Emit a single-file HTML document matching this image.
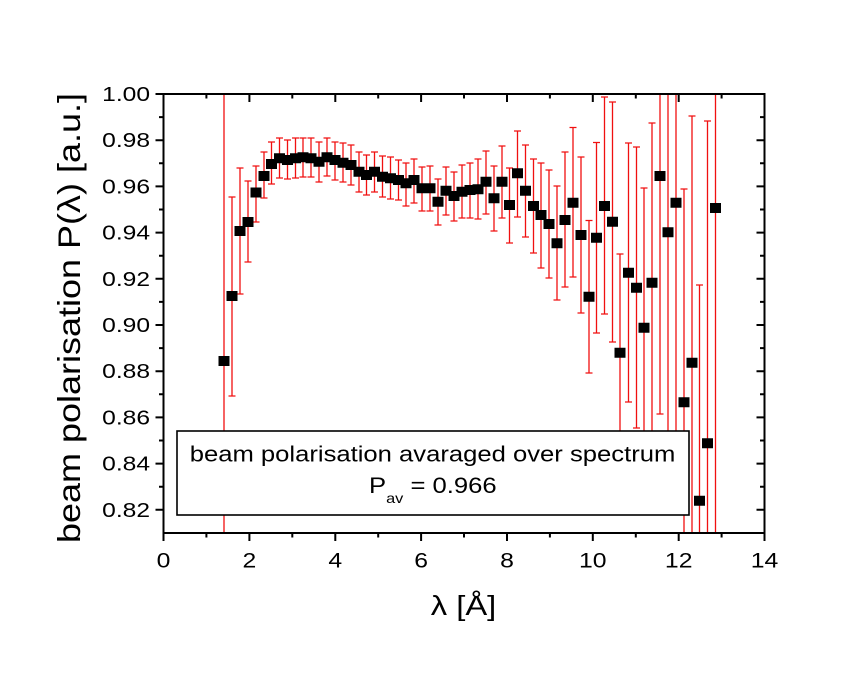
<!DOCTYPE html>
<html><head><meta charset="utf-8"><style>
html,body{margin:0;padding:0;background:#fff;}
svg{display:block;}
text{font-family:"Liberation Sans",Arial,sans-serif;fill:#000;}
</style></head><body>
<svg width="854" height="675" viewBox="0 0 854 675" xmlns="http://www.w3.org/2000/svg">
<rect x="0" y="0" width="854" height="675" fill="#fff"/>
<path fill="none" stroke="#f01010" stroke-width="1.3" d="M224 94V533 M232 197V396M228.5 197h7M228.5 396h7 M240 168V294M236.5 168h7M236.5 294h7 M248 181V262M244.5 181h7M244.5 262h7 M256 166V222M252.5 166h7M252.5 222h7 M264 152V198M260.5 152h7M260.5 198h7 M271.5 142V184M268 142h7M268 184h7 M279.5 138V178M276 138h7M276 178h7 M287.5 140V179M284 140h7M284 179h7 M295.5 138V178M292 138h7M292 178h7 M303 138V177M299.5 138h7M299.5 177h7 M311 138V177M307.5 138h7M307.5 177h7 M319 142V182M315.5 142h7M315.5 182h7 M327 138V176M323.5 138h7M323.5 176h7 M335 142V180M331.5 142h7M331.5 180h7 M343 143V182M339.5 143h7M339.5 182h7 M351 145V185M347.5 145h7M347.5 185h7 M359 152V192M355.5 152h7M355.5 192h7 M366.5 155V195M363 155h7M363 195h7 M374.5 152V192M371 152h7M371 192h7 M382.5 156V197M379 156h7M379 197h7 M390.5 157V199M387 157h7M387 199h7 M398.5 160V200M395 160h7M395 200h7 M406 163V206M402.5 163h7M402.5 206h7 M414 159V203M410.5 159h7M410.5 203h7 M422 167V211M418.5 167h7M418.5 211h7 M430 166V211M426.5 166h7M426.5 211h7 M438 179V225M434.5 179h7M434.5 225h7 M446 167V215M442.5 167h7M442.5 215h7 M454 172V221M450.5 172h7M450.5 221h7 M462 165V218M458.5 165h7M458.5 218h7 M470 163V218M466.5 163h7M466.5 218h7 M478 159V219M474.5 159h7M474.5 219h7 M486 151V214M482.5 151h7M482.5 214h7 M494 166V231M490.5 166h7M490.5 231h7 M502 146V218M498.5 146h7M498.5 218h7 M509.5 168V243M506 168h7M506 243h7 M517.5 131V217M514 131h7M514 217h7 M525.5 145V237M522 145h7M522 237h7 M533.5 159V253M530 159h7M530 253h7 M541 163V268M537.5 163h7M537.5 268h7 M549 170V278M545.5 170h7M545.5 278h7 M557 186V300M553.5 186h7M553.5 300h7 M565 152V287M561.5 152h7M561.5 287h7 M573 127.5V277M569.5 127.5h7M569.5 277h7 M581 157V313M577.5 157h7M577.5 313h7 M589 220.5V373M585.5 220.5h7M585.5 373h7 M596.5 142.5V333M593 142.5h7M593 333h7 M604.5 97V314M601 97h7M601 314h7 M612.5 102V342M609 102h7M609 342h7 M620 254V451M616.5 254h7M616.5 451h7 M628.5 143V402M625 143h7M625 402h7 M636.5 147V428M633 147h7M633 428h7 M644 188V468M640.5 188h7 M652 123V442M648.5 123h7 M660 94V414M656.5 414h7 M668 94V480 M676 94V480 M684 189V533M680.5 189h7 M692 116V533M688.5 116h7 M699.5 285V533M696 285h7 M707.5 121V533M704 121h7 M715.5 94V533"/>
<path fill="#000" d="M218.5 356h11v10h-11z M226.5 291h11v10h-11z M234.5 226h11v10h-11z M242.5 217h11v10h-11z M250.5 187.5h11v10h-11z M258.5 171h11v10h-11z M266 159h11v10h-11z M274 153.3h11v10h-11z M282 155h11v10h-11z M290 153.3h11v10h-11z M297.5 152.3h11v10h-11z M305.5 153.3h11v10h-11z M313.5 156.7h11v10h-11z M321.5 152.3h11v10h-11z M329.5 155h11v10h-11z M337.5 157.7h11v10h-11z M345.5 160h11v10h-11z M353.5 166.7h11v10h-11z M361 170h11v10h-11z M369 166.7h11v10h-11z M377 171.7h11v10h-11z M385 173.3h11v10h-11z M393 175h11v10h-11z M400.5 178.3h11v10h-11z M408.5 175h11v10h-11z M416.5 183.3h11v10h-11z M424.5 183.3h11v10h-11z M432.5 196.7h11v10h-11z M440.5 185.7h11v10h-11z M448.5 191h11v10h-11z M456.5 186.7h11v10h-11z M464.5 185h11v10h-11z M472.5 184.3h11v10h-11z M480.5 176.7h11v10h-11z M488.5 193.3h11v10h-11z M496.5 176.7h11v10h-11z M504 200h11v10h-11z M512 168.3h11v10h-11z M520 185.7h11v10h-11z M528 201h11v10h-11z M535.5 210h11v10h-11z M543.5 219h11v10h-11z M551.5 238.3h11v10h-11z M559.5 215h11v10h-11z M567.5 197.7h11v10h-11z M575.5 230h11v10h-11z M583.5 291.7h11v10h-11z M591 232.7h11v10h-11z M599 201h11v10h-11z M607 216.7h11v10h-11z M614.5 347.7h11v10h-11z M623 267.7h11v10h-11z M631 282.7h11v10h-11z M638.5 322.7h11v10h-11z M646.5 277.7h11v10h-11z M654.5 171h11v10h-11z M662.5 227.3h11v10h-11z M670.5 197.7h11v10h-11z M678.5 397.3h11v10h-11z M686.5 357.7h11v10h-11z M694 495.7h11v10h-11z M702 438.3h11v10h-11z M710 203h11v10h-11z"/>
<rect x="177" y="431" width="512" height="84" fill="#fff" stroke="#000" stroke-width="1.6"/>
<text transform="translate(432.5,461.5) scale(1.165,1)" text-anchor="middle" font-size="22">beam polarisation avaraged over spectrum</text>
<text transform="translate(369,493) scale(1.165,1)" font-size="22">P<tspan font-size="14" dy="10">av</tspan><tspan dy="-10"> = 0.966</tspan></text>
<rect x="163.5" y="94" width="601" height="439" fill="none" stroke="#000" stroke-width="2"/>
<path fill="none" stroke="#000" stroke-width="2" d="M155.5 94h8M155.5 140.2h8M155.5 186.4h8M155.5 232.6h8M155.5 278.8h8M155.5 325h8M155.5 371.2h8M155.5 417.4h8M155.5 463.6h8M155.5 509.8h8 M159 117.1h4.5M159 163.3h4.5M159 209.5h4.5M159 255.7h4.5M159 301.9h4.5M159 348.1h4.5M159 394.3h4.5M159 440.5h4.5M159 486.7h4.5 M756.5 94h8M756.5 140.2h8M756.5 186.4h8M756.5 232.6h8M756.5 278.8h8M756.5 325h8M756.5 371.2h8M756.5 417.4h8M756.5 463.6h8M756.5 509.8h8 M760 117.1h4.5M760 163.3h4.5M760 209.5h4.5M760 255.7h4.5M760 301.9h4.5M760 348.1h4.5M760 394.3h4.5M760 440.5h4.5M760 486.7h4.5 M163.5 533v8M249.4 533v8M335.3 533v8M421.1 533v8M507 533v8M592.8 533v8M678.7 533v8M764.5 533v8 M206.4 533v4.5M292.3 533v4.5M378.2 533v4.5M464 533v4.5M549.9 533v4.5M635.8 533v4.5M721.6 533v4.5 M249.4 94v8M335.3 94v8M421.1 94v8M507 94v8M592.8 94v8M678.7 94v8 M206.4 94v4.5M292.3 94v4.5M378.2 94v4.5M464 94v4.5M549.9 94v4.5M635.8 94v4.5M721.6 94v4.5"/>
<g font-size="20.5" text-anchor="end">
<text transform="translate(150,101) scale(1.2,1)">1.00</text>
<text transform="translate(150,147.2) scale(1.2,1)">0.98</text>
<text transform="translate(150,193.4) scale(1.2,1)">0.96</text>
<text transform="translate(150,239.6) scale(1.2,1)">0.94</text>
<text transform="translate(150,285.8) scale(1.2,1)">0.92</text>
<text transform="translate(150,332) scale(1.2,1)">0.90</text>
<text transform="translate(150,378.2) scale(1.2,1)">0.88</text>
<text transform="translate(150,424.4) scale(1.2,1)">0.86</text>
<text transform="translate(150,470.6) scale(1.2,1)">0.84</text>
<text transform="translate(150,516.8) scale(1.2,1)">0.82</text>
</g>
<g font-size="21" text-anchor="middle">
<text transform="translate(163.5,567.5) scale(1.18,1)">0</text>
<text transform="translate(249.4,567.5) scale(1.18,1)">2</text>
<text transform="translate(335.3,567.5) scale(1.18,1)">4</text>
<text transform="translate(421.1,567.5) scale(1.18,1)">6</text>
<text transform="translate(507,567.5) scale(1.18,1)">8</text>
<text transform="translate(592.8,567.5) scale(1.18,1)">10</text>
<text transform="translate(678.7,567.5) scale(1.18,1)">12</text>
<text transform="translate(764.5,567.5) scale(1.18,1)">14</text>
</g>
<text transform="translate(463.5,615) scale(1.17,1)" font-size="28" text-anchor="middle">λ [Å]</text>
<text transform="translate(80,318) rotate(-90)" font-size="31.5" text-anchor="middle" textLength="450" lengthAdjust="spacingAndGlyphs">beam polarisation P(λ) [a.u.]</text>
</svg>
</body></html>
